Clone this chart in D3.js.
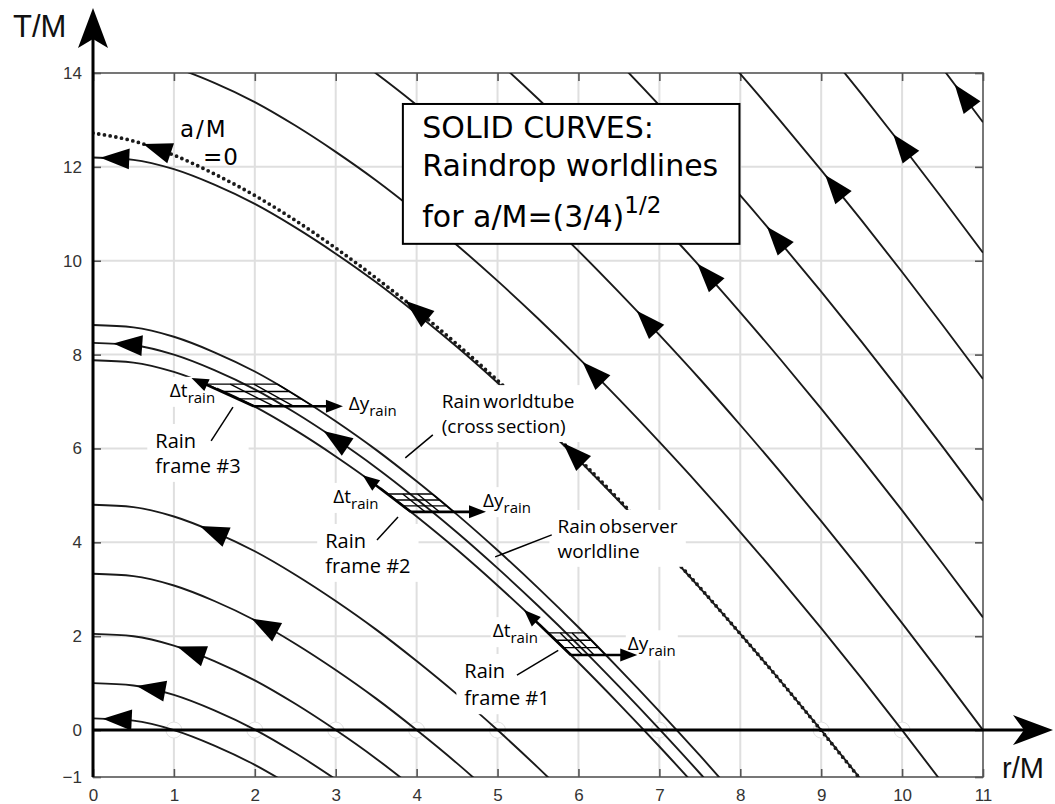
<!DOCTYPE html>
<html>
<head>
<meta charset="utf-8">
<script src="https://cdn.jsdelivr.net/npm/d3@7"></script>
<style>
  body { margin: 0; background: #fff; }
  svg { display: block; }
</style>
</head>
<body>
<svg id="chart" width="1055" height="804"></svg>
<script>
const rGrid = [0, 0.5, 1, 1.5, 2, 2.5, 3, 3.5, 4, 4.5, 5, 5.5, 6, 6.5, 7, 7.5, 8, 8.5, 9, 9.5, 10, 10.5, 11];

// T/M of each raindrop worldline (a/M = (3/4)^1/2), one value per rGrid entry
const drop1 = [0.25, 0.20, 0.00, -0.33, -0.74, -1.24];
const drop2 = [1.00, 0.95, 0.75, 0.42, 0.01, -0.49, -1.05];
const drop3 = [2.05, 2.00, 1.80, 1.47, 1.06, 0.56, 0.00, -0.61, -1.28];
const drop4 = [3.33, 3.28, 3.08, 2.75, 2.34, 1.84, 1.28, 0.67, 0.00, -0.71, -1.47];
const drop5 = [4.80, 4.75, 4.55, 4.22, 3.81, 3.31, 2.75, 2.14, 1.47, 0.76, 0.00, -0.80, -1.64];
const tubeInner = [7.88, 7.83, 7.63, 7.30, 6.89, 6.39, 5.83, 5.22, 4.55, 3.84, 3.08, 2.28, 1.44, 0.56, -0.35, -1.29];
const observer = [8.25, 8.20, 8.00, 7.67, 7.26, 6.76, 6.20, 5.59, 4.92, 4.21, 3.45, 2.65, 1.81, 0.93, 0.02, -0.92, -1.90];
const tubeOuter = [8.63, 8.58, 8.38, 8.05, 7.64, 7.14, 6.58, 5.97, 5.30, 4.59, 3.83, 3.03, 2.19, 1.31, 0.40, -0.54, -1.52];
const drop9 = [12.20, 12.15, 11.95, 11.62, 11.21, 10.71, 10.15, 9.54, 8.87, 8.16, 7.40, 6.60, 5.76, 4.88, 3.97, 3.03, 2.05, 1.04, 0.00, -1.07];
const drop10 = [14.37, 14.32, 14.12, 13.79, 13.38, 12.88, 12.32, 11.71, 11.04, 10.33, 9.57, 8.77, 7.93, 7.05, 6.14, 5.20, 4.22, 3.21, 2.17, 1.10, 0.00, -1.13];
const drop11 = [16.65, 16.60, 16.40, 16.07, 15.66, 15.16, 14.60, 13.99, 13.32, 12.61, 11.85, 11.05, 10.21, 9.33, 8.42, 7.48, 6.50, 5.49, 4.45, 3.38, 2.28, 1.15, 0.00];
const drop12 = [19.05, 19.00, 18.80, 18.47, 18.06, 17.56, 17.00, 16.39, 15.72, 15.01, 14.25, 13.45, 12.61, 11.73, 10.82, 9.88, 8.90, 7.89, 6.85, 5.78, 4.68, 3.55, 2.40];
const drop13 = [21.54, 21.49, 21.29, 20.96, 20.55, 20.05, 19.49, 18.88, 18.21, 17.50, 16.74, 15.94, 15.10, 14.22, 13.31, 12.37, 11.39, 10.38, 9.34, 8.27, 7.17, 6.04, 4.89];
const drop14 = [24.13, 24.08, 23.88, 23.55, 23.14, 22.64, 22.08, 21.47, 20.80, 20.09, 19.33, 18.53, 17.69, 16.81, 15.90, 14.96, 13.98, 12.97, 11.93, 10.86, 9.76, 8.63, 7.48];
const drop15 = [26.82, 26.77, 26.57, 26.24, 25.83, 25.33, 24.77, 24.16, 23.49, 22.78, 22.02, 21.22, 20.38, 19.50, 18.59, 17.65, 16.67, 15.66, 14.62, 13.55, 12.45, 11.32, 10.17];
const drop16 = [29.60, 29.55, 29.35, 29.02, 28.61, 28.11, 27.55, 26.94, 26.27, 25.56, 24.80, 24.00, 23.16, 22.28, 21.37, 20.43, 19.45, 18.44, 17.40, 16.33, 15.23, 14.10, 12.95];

// dotted a/M = 0 raindrop
const schwarzschild = [12.72, 12.55, 12.25, 11.85, 11.39, 10.86, 10.27, 9.63, 8.95, 8.22, 7.45, 6.64, 5.79, 4.91, 3.99, 3.04, 2.05, 1.04, -0.01, -1.08];

const solidDrops = [drop1, drop2, drop3, drop4, drop5, tubeInner, observer, tubeOuter,
    drop9, drop10, drop11, drop12, drop13, drop14, drop15, drop16];

// arrowheads: [worldline, r/M of the tip]
const arrowMarks = [
    [drop1, 0.12], [drop2, 0.54], [drop3, 1.04], [drop4, 1.96], [drop5, 1.32],
    [observer, 0.25], [observer, 2.85], [drop9, 0.09], [drop10, 6.05], [drop11, 6.72],
    [drop12, 7.47], [drop13, 8.33], [drop14, 9.05], [drop15, 9.89], [drop16, 10.65],
    [schwarzschild, 0.62], [schwarzschild, 3.86], [schwarzschild, 5.81]
];

// rain frames #1..#3 on the worldtube (T/M of mesh bottom, mesh top, dt arrow tip; dy arrow length in r/M)
const frameBottomT = [1.60, 4.65, 6.90];
const frameTopT = [2.07, 5.03, 7.37];
const frameTipT = [2.56, 5.43, 7.50];
const frameDyR = [0.82, 0.93, 1.10];

const zeroCrossR = [1, 2, 3, 4, 5, 7, 9, 10];
const rTicks = d3.range(0, 12);
const tTicks = [-1, 0, 2, 4, 6, 8, 10, 12, 14];

const x = d3.scaleLinear().domain([0, 11]).range([93, 983]);
const y = d3.scaleLinear().domain([-1, 14]).range([777, 73]);

const svg = d3.select("#chart");
const defs = svg.append("defs");
defs.append("clipPath").attr("id", "plot-clip")
    .append("rect")
    .attr("x", x(0)).attr("y", y(14))
    .attr("width", x(11) - x(0)).attr("height", y(-1) - y(14));

const labelFont = "'Open Sans', sans-serif";
const boxFont = "'DejaVu Sans', sans-serif";
const tickFont = "'Liberation Sans', Arial, sans-serif";

// grid
const grid = svg.append("g");
grid.selectAll(".vgrid")
    .data(rTicks.filter(d => d > 0 && d < 11))
    .join("line")
    .attr("x1", d => x(d)).attr("x2", d => x(d))
    .attr("y1", y(14)).attr("y2", y(-1))
    .attr("stroke", "#dfdfdf").attr("stroke-width", 2);
grid.selectAll(".hgrid")
    .data(tTicks.filter(d => d > 0 && d < 14))
    .join("line")
    .attr("x1", x(0)).attr("x2", x(11))
    .attr("y1", d => y(d)).attr("y2", d => y(d))
    .attr("stroke", "#dfdfdf").attr("stroke-width", 2);

svg.append("g").selectAll("circle")
    .data(zeroCrossR)
    .join("circle")
    .attr("cx", d => x(d)).attr("cy", y(0)).attr("r", 8)
    .attr("fill", "#fff").attr("stroke", "#e2e2e2").attr("stroke-width", 1);

// frame and ticks
svg.append("rect")
    .attr("x", x(0)).attr("y", y(14))
    .attr("width", x(11) - x(0)).attr("height", y(-1) - y(14))
    .attr("fill", "none").attr("stroke", "#555").attr("stroke-width", 1.6);

const styleAxis = (g) => {
    g.select(".domain").remove();
    g.selectAll(".tick line").attr("stroke", "#555").attr("stroke-width", 1.6);
    g.selectAll(".tick text")
        .attr("font-family", tickFont).attr("font-size", 17).attr("fill", "#333");
};
svg.append("g").attr("transform", `translate(0,${y(-1)})`)
    .call(d3.axisBottom(x).tickValues(rTicks).tickSizeInner(-8).tickSizeOuter(0).tickPadding(12).tickFormat(d3.format("d")))
    .call(styleAxis);
svg.append("g").attr("transform", `translate(0,${y(14)})`)
    .call(d3.axisTop(x).tickValues(rTicks).tickSizeInner(-8).tickSizeOuter(0).tickFormat(""))
    .call(styleAxis);
svg.append("g").attr("transform", `translate(${x(0)},0)`)
    .call(d3.axisLeft(y).tickValues(tTicks).tickSizeInner(-8).tickSizeOuter(0).tickPadding(11).tickFormat(d3.format("d")))
    .call(styleAxis);
svg.append("g").attr("transform", `translate(${x(11)},0)`)
    .call(d3.axisRight(y).tickValues(tTicks).tickSizeInner(-8).tickSizeOuter(0).tickFormat(""))
    .call(styleAxis);

// worldlines
const line = d3.line()
    .x(d => x(d[0]))
    .y(d => y(d[1]))
    .curve(d3.curveMonotoneX);
const toPoints = (ts) => ts.map((t, i) => [rGrid[i], t]);

const curveLayer = svg.append("g").attr("clip-path", "url(#plot-clip)");
const pathFor = new Map();

curveLayer.selectAll("path.drop")
    .data(solidDrops)
    .join("path")
    .attr("class", "drop")
    .attr("d", d => line(toPoints(d)))
    .attr("fill", "none")
    .attr("stroke", "#1a1a1a")
    .attr("stroke-width", 1.9)
    .each(function (d) { pathFor.set(d, this); });

curveLayer.append("path")
    .datum(schwarzschild)
    .attr("d", d => line(toPoints(d)))
    .attr("fill", "none")
    .attr("stroke", "#1a1a1a")
    .attr("stroke-width", 3.8)
    .attr("stroke-linecap", "round")
    .attr("stroke-dasharray", "0 5.8")
    .each(function (d) { pathFor.set(d, this); });

// binary search along a rendered path for a given pixel x or y
const pointWhere = (node, key, target) => {
    let lo = 0, hi = node.getTotalLength();
    for (let i = 0; i < 40; i++) {
        const mid = (lo + hi) / 2;
        if (node.getPointAtLength(mid)[key] < target) lo = mid; else hi = mid;
    }
    return { len: lo, pt: node.getPointAtLength(lo) };
};

const headPath = (tip, ux, uy, len, half) => {
    const bx = tip.x - ux * len, by = tip.y - uy * len;
    const nx = -uy, ny = ux;
    return `M${tip.x},${tip.y}L${bx + nx * half},${by + ny * half}L${bx - nx * half},${by - ny * half}Z`;
};

svg.append("g").selectAll("path")
    .data(arrowMarks)
    .join("path")
    .attr("d", ([curve, rTip]) => {
        const node = pathFor.get(curve);
        const { len, pt } = pointWhere(node, "x", x(rTip));
        const back = node.getPointAtLength(len + 14);
        const dx = pt.x - back.x, dy = pt.y - back.y, n = Math.hypot(dx, dy);
        return headPath(pt, dx / n, dy / n, 29, 10.5);
    })
    .attr("fill", "#000");

// legend box
const box = svg.append("g");
box.append("rect")
    .attr("x", x(3.83)).attr("y", y(13.34))
    .attr("width", x(7.99) - x(3.83)).attr("height", y(10.36) - y(13.34))
    .attr("fill", "#fff").attr("stroke", "#000").attr("stroke-width", 2);
const boxLines = ["SOLID CURVES:", "Raindrop worldlines"];
const boxBase = [12.61, 11.80];
box.selectAll("text.line")
    .data(boxLines)
    .join("text")
    .attr("class", "line")
    .attr("x", x(4.07)).attr("y", (d, i) => y(boxBase[i]))
    .attr("font-family", boxFont).attr("font-size", 30).attr("fill", "#000")
    .text(d => d);
const forLine = box.append("text")
    .attr("x", x(4.07)).attr("y", y(10.72))
    .attr("font-family", boxFont).attr("font-size", 30).attr("fill", "#000");
forLine.append("tspan").text("for a/M=(3/4)");
forLine.append("tspan").attr("font-size", 23).attr("dy", -14).text("1/2");

// a/M = 0 label
svg.append("text")
    .attr("x", x(1.075)).attr("y", y(12.64))
    .attr("font-family", boxFont).attr("font-size", 23).attr("letter-spacing", 2)
    .text("a/M");
svg.append("text")
    .attr("x", x(1.36)).attr("y", y(12.04))
    .attr("font-family", boxFont).attr("font-size", 23).attr("letter-spacing", 1)
    .text("=0");

// callout labels
const notes = [
    { lines: ["Rain worldtube", "(cross section)"], r: 4.31, T: [6.86, 6.33], tight: true, leader: [[4.20, 6.29], [3.86, 5.80]] },
    { lines: ["Rain observer", "worldline"], r: 5.74, T: [4.20, 3.67], tight: true, leader: [[5.67, 4.16], [4.97, 3.69]] },
    { lines: ["Rain", "frame #3"], r: 0.77, T: [6.01, 5.48], tight: false, leader: [[1.46, 6.16], [1.73, 6.88]] },
    { lines: ["Rain", "frame #2"], r: 2.87, T: [3.88, 3.35], tight: false, leader: [[3.51, 4.05], [3.77, 4.54]] },
    { lines: ["Rain", "frame #1"], r: 4.59, T: [1.11, 0.53], tight: false, leader: [[5.24, 1.17], [5.75, 1.70]] }
];
const noteLayer = svg.append("g");
notes.forEach(note => {
    const g = noteLayer.append("g");
    const bg = g.append("rect").attr("fill", "#fff");
    const t = g.append("text")
        .attr("font-family", labelFont).attr("font-size", note.tight ? 19 : 20).attr("fill", "#000")
        .attr("word-spacing", note.tight ? -2 : 0);
    note.lines.forEach((s, i) => {
        t.append("tspan").attr("x", x(note.r)).attr("y", y(note.T[i])).text(s);
    });
    const bb = t.node().getBBox();
    bg.attr("x", bb.x - 8).attr("y", bb.y - 3).attr("width", bb.width + 16).attr("height", bb.height + 6);
    g.append("line")
        .attr("x1", x(note.leader[0][0])).attr("y1", y(note.leader[0][1]))
        .attr("x2", x(note.leader[1][0])).attr("y2", y(note.leader[1][1]))
        .attr("stroke", "#000").attr("stroke-width", 1.5);
});

// delta labels near each frame
const deltaNotes = [
    { main: "\u0394t", r: 4.94, T: 1.98 }, { main: "\u0394y", r: 6.61, T: 1.70 },
    { main: "\u0394t", r: 2.97, T: 4.84 }, { main: "\u0394y", r: 4.82, T: 4.75 },
    { main: "\u0394t", r: 0.95, T: 7.10 }, { main: "\u0394y", r: 3.16, T: 6.82 }
];
deltaNotes.forEach(dn => {
    const g = noteLayer.append("g");
    const bg = g.append("rect").attr("fill", "#fff");
    const t = g.append("text")
        .attr("x", x(dn.r)).attr("y", y(dn.T))
        .attr("font-family", labelFont).attr("font-size", 19).attr("fill", "#000");
    t.append("tspan").text(dn.main);
    t.append("tspan").attr("font-size", 15).attr("dy", 6).text("rain");
    const bb = t.node().getBBox();
    bg.attr("x", bb.x - 2).attr("y", bb.y).attr("width", bb.width + 4).attr("height", bb.height);
});

// rain frame meshes with their dt / dy arrows
const frameLayer = svg.append("g");
const lowerNode = pathFor.get(tubeInner);
const upperNode = pathFor.get(tubeOuter);
frameBottomT.forEach((tb, i) => {
    const yb = y(tb), yt = y(frameTopT[i]);
    const lb = pointWhere(lowerNode, "y", yb).pt.x;
    const ub = pointWhere(upperNode, "y", yb).pt.x;
    const lt = pointWhere(lowerNode, "y", yt).pt.x;
    const ut = pointWhere(upperNode, "y", yt).pt.x;
    const segs = [];
    for (let k = 0; k <= 3; k++) {
        const f = k / 3;
        const yy = yb + (yt - yb) * f;
        segs.push([lb + (lt - lb) * f, yy, ub + (ut - ub) * f, yy]);
        segs.push([lb + (ub - lb) * f, yb, lt + (ut - lt) * f, yt]);
    }
    frameLayer.append("g").selectAll("line")
        .data(segs)
        .join("line")
        .attr("x1", d => d[0]).attr("y1", d => d[1])
        .attr("x2", d => d[2]).attr("y2", d => d[3])
        .attr("stroke", "#000").attr("stroke-width", 1.4);

    // dt arrow along the worldline
    const tipY = y(frameTipT[i]);
    const tip = { x: pointWhere(lowerNode, "y", tipY).pt.x, y: tipY };
    const dx = tip.x - lb, dy = tip.y - yb;
    const n = Math.hypot(dx, dy);
    frameLayer.append("line")
        .attr("x1", lb).attr("y1", yb)
        .attr("x2", tip.x - dx / n * 10).attr("y2", tip.y - dy / n * 10)
        .attr("stroke", "#000").attr("stroke-width", 2.6);
    frameLayer.append("path").attr("d", headPath(tip, dx / n, dy / n, 17, 6.5)).attr("fill", "#000");

    // dy arrow, horizontal
    const dyTip = { x: lb + (x(frameDyR[i]) - x(0)), y: yb };
    frameLayer.append("line")
        .attr("x1", lb).attr("y1", yb)
        .attr("x2", dyTip.x - 10).attr("y2", yb)
        .attr("stroke", "#000").attr("stroke-width", 2.6);
    frameLayer.append("path").attr("d", headPath(dyTip, 1, 0, 17, 6.5)).attr("fill", "#000");
});

// thick axes with arrowheads
const axes = svg.append("g");
axes.append("line")
    .attr("x1", x(0)).attr("x2", x(0)).attr("y1", y(-1)).attr("y2", 30)
    .attr("stroke", "#000").attr("stroke-width", 3);
axes.append("path")
    .attr("d", `M${x(0)},8L${x(0) + 15},48L${x(0)},39L${x(0) - 15},48Z`)
    .attr("fill", "#000");
axes.append("line")
    .attr("x1", x(0)).attr("x2", 1030).attr("y1", y(0)).attr("y2", y(0))
    .attr("stroke", "#000").attr("stroke-width", 3);
axes.append("path")
    .attr("d", `M1053,${y(0)}L1013,${y(0) - 15}L1024,${y(0)}L1013,${y(0) + 15}Z`)
    .attr("fill", "#000");

svg.append("text")
    .attr("x", 13).attr("y", 37)
    .attr("font-family", tickFont).attr("font-size", 31).attr("fill", "#111")
    .text("T/M");
svg.append("text")
    .attr("x", 1002).attr("y", 778)
    .attr("font-family", tickFont).attr("font-size", 29).attr("fill", "#111")
    .text("r/M");
</script>
</body>
</html>
